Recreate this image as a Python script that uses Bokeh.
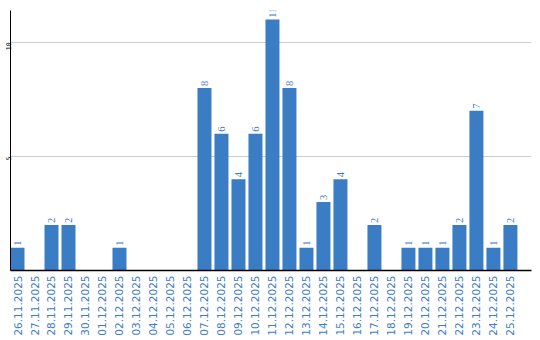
import math
from bokeh.plotting import figure
from bokeh.models import ColumnDataSource, FixedTicker, Range1d, LabelSet
from bokeh.embed import file_html
from bokeh.resources import INLINE

dates = ["26.11.2025", "27.11.2025", "28.11.2025", "29.11.2025", "30.11.2025",
         "01.12.2025", "02.12.2025", "03.12.2025", "04.12.2025", "05.12.2025",
         "06.12.2025", "07.12.2025", "08.12.2025", "09.12.2025", "10.12.2025",
         "11.12.2025", "12.12.2025", "13.12.2025", "14.12.2025", "15.12.2025",
         "16.12.2025", "17.12.2025", "18.12.2025", "19.12.2025", "20.12.2025",
         "21.12.2025", "22.12.2025", "23.12.2025", "24.12.2025", "25.12.2025"]
counts = [1, 0, 2, 2, 0, 0, 1, 0, 0, 0, 0, 8, 6, 4, 6, 11, 8, 1, 3, 4,
          0, 2, 0, 1, 1, 1, 2, 7, 1, 2]
y_ticks = [5, 10]

BLUE = "#3b7dc4"
LABEL_BLUE = "#3d7cc6"

idx = list(range(len(dates)))
nz = [i for i in idx if counts[i] > 0]
src = ColumnDataSource(dict(x=idx, y=counts))
lab_src = ColumnDataSource(dict(x=nz, y=[counts[i] for i in nz],
                                t=[str(counts[i]) for i in nz]))

p = figure(width=540, height=340, output_backend="svg", toolbar_location=None,
           x_range=Range1d(-0.412, 30.24), y_range=Range1d(0, 11.4),
           min_border_left=10, min_border_right=9, min_border_top=10,
           min_border_bottom=70)
p.outline_line_color = None
p.background_fill_color = "white"
p.border_fill_color = "white"

p.vbar(x="x", top="y", bottom=0, width=0.8235, source=src,
       fill_color=BLUE, line_color=None)

labels = LabelSet(x="x", y="y", text="t", source=lab_src, angle=math.pi / 2,
                  text_align="left", text_baseline="middle", y_offset=2,
                  text_color=LABEL_BLUE, text_font_size="10.5px",
                  text_font="DejaVu Sans")
p.add_layout(labels)

p.xaxis.ticker = FixedTicker(ticks=idx)
p.xaxis.major_label_overrides = {i: d for i, d in enumerate(dates)}
p.xaxis.major_label_orientation = math.pi / 2
p.xaxis.major_label_text_color = LABEL_BLUE
p.xaxis.major_label_text_font = "DejaVu Sans"
p.xaxis.major_label_text_font_size = "10.5px"
p.xaxis.major_label_standoff = 5
p.xaxis.major_tick_line_color = None
p.xaxis.major_tick_out = 0
p.xaxis.major_tick_in = 0
p.xaxis.minor_tick_line_color = None
p.xaxis.minor_tick_out = 0
p.xaxis.axis_line_color = "black"
p.xaxis.axis_line_width = 1.3

p.yaxis.ticker = FixedTicker(ticks=y_ticks)
p.yaxis.major_label_orientation = math.pi / 2
p.yaxis.major_label_text_font = "DejaVu Sans Mono"
p.yaxis.major_label_text_font_size = "6.5px"
p.yaxis.major_label_text_color = "black"
p.yaxis.major_label_standoff = 2
p.yaxis.major_tick_line_color = None
p.yaxis.major_tick_out = 0
p.yaxis.major_tick_in = 0
p.yaxis.minor_tick_line_color = None
p.yaxis.minor_tick_out = 0
p.yaxis.axis_line_color = "black"

p.xgrid.grid_line_color = None
p.ygrid.ticker = FixedTicker(ticks=y_ticks)
p.ygrid.grid_line_color = "#cccccc"

open("out.html", "w").write(file_html(p, INLINE))
